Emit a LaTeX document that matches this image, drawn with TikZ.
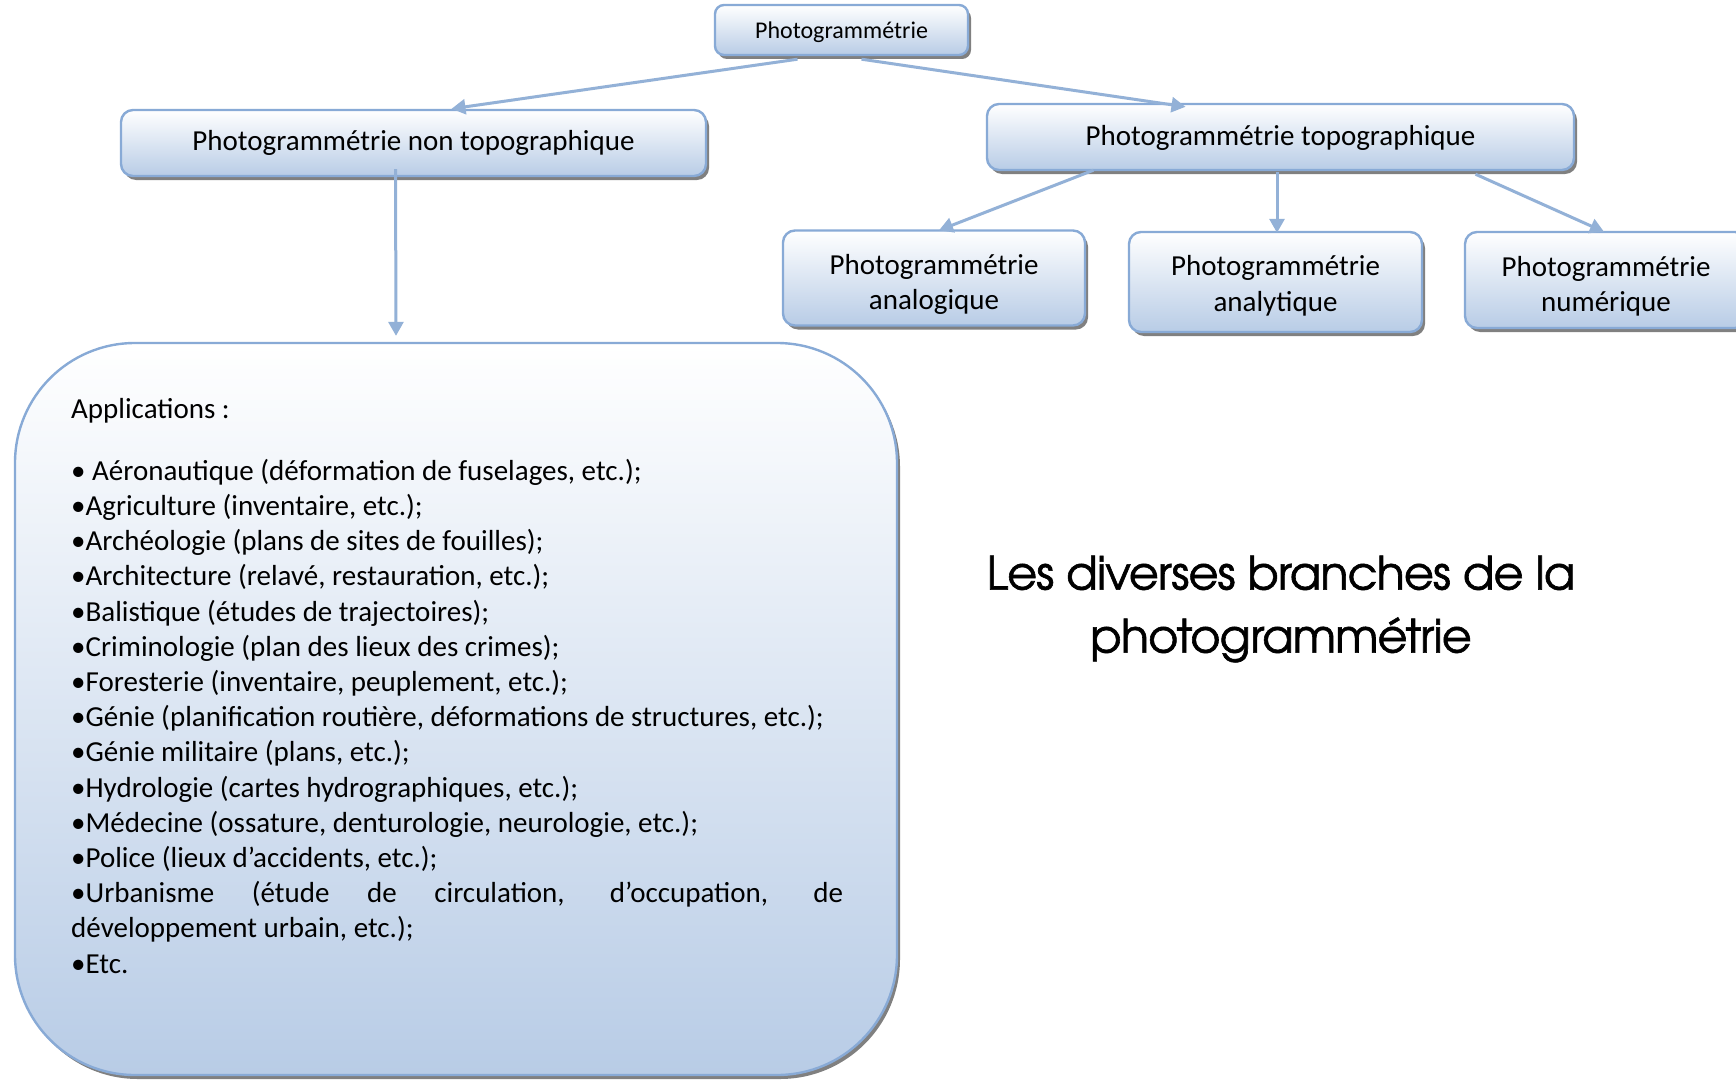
\documentclass[tikz,border=0pt]{standalone}
\usepackage{fontspec}
\setmainfont{Carlito}
\newfontfamily\titlefont[FakeBold=1.3,LetterSpace=-1.7]{TeX Gyre Adventor}
\usetikzlibrary{shadows,calc,arrows.meta}
\definecolor{bord}{RGB}{136,170,214}
\definecolor{fillb}{RGB}{184,204,230}
\definecolor{arrowc}{RGB}{147,177,215}
\definecolor{shad}{RGB}{128,128,128}
\newcommand\lowtext[2]{\raisebox{-#1}[\height][\depth]{\begin{tabular}{@{}c@{}}#2\end{tabular}}}
\begin{document}
\begin{tikzpicture}[x=1pt,y=-1pt,
  box/.style={draw=bord, line width=2.4pt, rounded corners=12pt,
    top color=white, bottom color=fillb,
    drop shadow={shadow xshift=3pt, shadow yshift=-4pt, fill=shad, opacity=1},
    inner sep=0pt, align=center, font=\fontsize{29}{35.4}\selectfont},
  conn/.style={draw=arrowc, line width=3pt, -{Triangle[length=14pt,width=15pt]}}]
\useasboundingbox[fill=white] (0,0) rectangle (1736,1081);

\node[box, minimum width=253pt, minimum height=50pt, rounded corners=9pt,
  font=\fontsize{24}{29}\selectfont] (top) at (841.5,30) {\lowtext{3pt}{Photogrammétrie}};
\node[box, minimum width=585pt, minimum height=66pt] (nt) at (413.5,143) {Photogrammétrie non topographique};
\node[box, minimum width=587pt, minimum height=66pt] (tp) at (1280.5,137) {\lowtext{1pt}{Photogrammétrie topographique}};
\node[box, minimum width=302pt, minimum height=95pt] (ana) at (934,278) {\lowtext{7pt}{Photogrammétrie\\analogique}};
\node[box, minimum width=293pt, minimum height=100pt] (aly) at (1275.5,282) {\lowtext{4.5pt}{Photogrammétrie\\analytique}};
\node[box, minimum width=282pt, minimum height=96pt] (num) at (1606,280) {\lowtext{7pt}{Photogrammétrie\\numérique}};

\node[box, rounded corners=120pt, minimum width=882pt, minimum height=732pt] (apps) at (456,709) {};

\node[anchor=base west, inner sep=0pt, font=\fontsize{29}{35.2}\selectfont] (list) at (71,418) {%
\begin{minipage}[t]{772pt}\hyphenpenalty=10000 \exhyphenpenalty=10000
Applications :\\[27pt]
• Aéronautique (déformation de fuselages, etc.);\\
•Agriculture (inventaire, etc.);\\
•Archéologie (plans de sites de fouilles);\\
•Architecture (relavé, restauration, etc.);\\
•Balistique (études de trajectoires);\\
•Criminologie (plan des lieux des crimes);\\
•Foresterie (inventaire, peuplement, etc.);\\
•Génie (planification routière, déformations de structures, etc.);\\
•Génie militaire (plans, etc.);\\
•Hydrologie (cartes hydrographiques, etc.);\\
•Médecine (ossature, denturologie, neurologie, etc.);\\
•Police (lieux d’accidents, etc.);\\
•Urbanisme (étude de circulation, d’occupation, de\linebreak développement urbain, etc.);\\
•Etc.
\end{minipage}};

\node[font=\titlefont\fontsize{46}{63}\selectfont, align=center] (title) at (1281,609) {Les diverses branches de la\\photogrammétrie};

\draw[conn] ($(top.south)+(-44,3)$) -- ($(nt.north)+(38,0)$);
\draw[conn] ($(top.south)+(20,3)$) -- ($(tp.north)+(-95,4)$);
\draw[conn] ($(nt.south)+(-18,-8)$) -- ($(apps.north)+(-60,-6)$);
\draw[conn] ($(tp.south)+(-187,-1)$) -- ($(ana.north)+(5,1)$);
\draw[conn] ($(tp.south)+(-3.5,1)$) -- ($(aly.north)+(1.5,2)$);
\draw[conn] ($(tp.south)+(195,3)$) -- ($(num.north)+(-2,1)$);
\end{tikzpicture}
\end{document}
